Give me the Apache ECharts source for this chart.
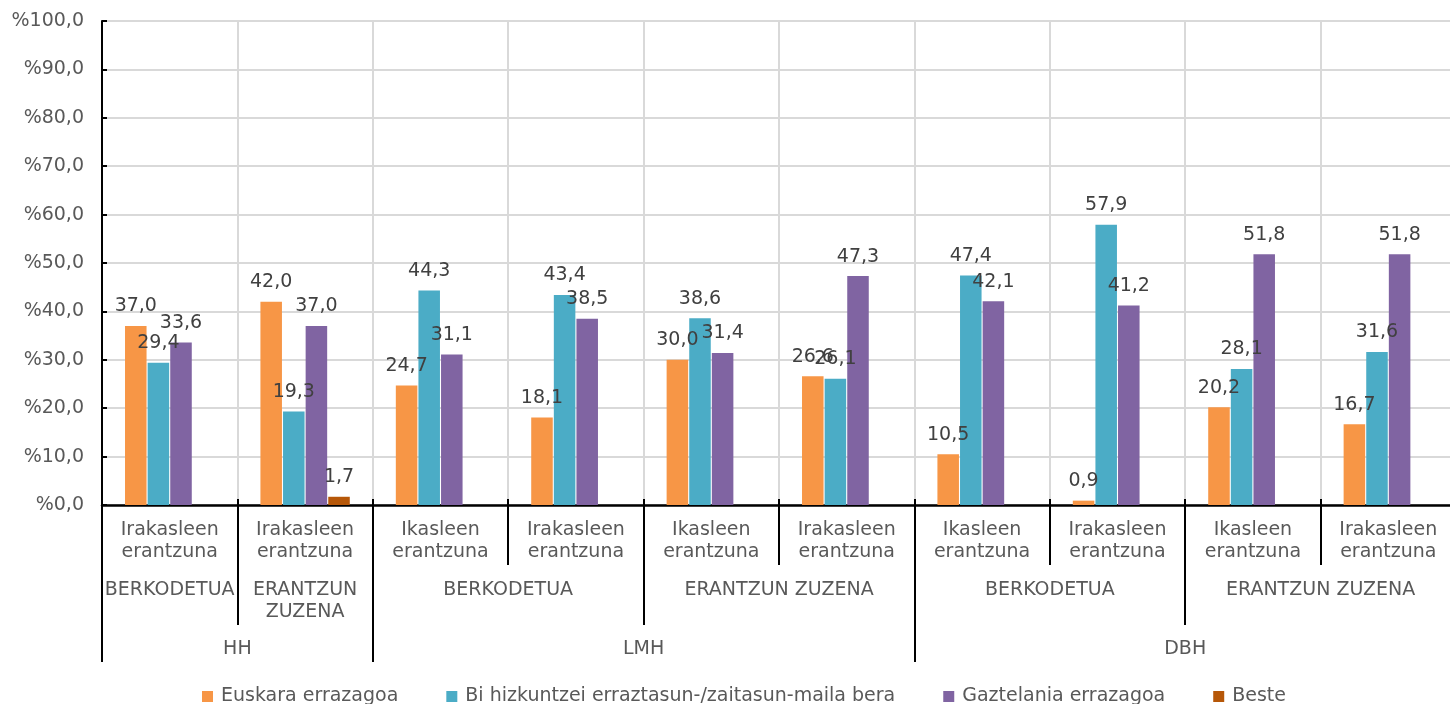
<!DOCTYPE html>
<html>
<head>
<meta charset="utf-8">
<script src="https://cdn.jsdelivr.net/npm/echarts@6/dist/echarts.min.js"></script>
<style>html,body{margin:0;padding:0;background:#fff}#c{width:1450px;height:704px}</style>
</head>
<body>
<div id="c"></div>
<script>
// ---- data ----
var categories = ['Irakasleen\nerantzuna','Irakasleen\nerantzuna','Ikasleen\nerantzuna','Irakasleen\nerantzuna','Ikasleen\nerantzuna','Irakasleen\nerantzuna','Ikasleen\nerantzuna','Irakasleen\nerantzuna','Ikasleen\nerantzuna','Irakasleen\nerantzuna'];
var level2Labels = ['BERKODETUA','ERANTZUN\nZUZENA','BERKODETUA','ERANTZUN ZUZENA','BERKODETUA','ERANTZUN ZUZENA'];
var level2Spans = [1,1,2,2,2,2];
var level3Labels = ['HH','LMH','DBH'];
var level3Spans = [2,4,4];
var seriesNames = ['Euskara errazagoa','Bi hizkuntzei erraztasun-/zaitasun-maila bera','Gaztelania errazagoa','Beste'];
var euskara = [37.0, 42.0, 24.7, 18.1, 30.0, 26.6, 10.5, 0.9, 20.2, 16.7];
var biak = [29.4, 19.3, 44.3, 43.4, 38.6, 26.1, 47.4, 57.9, 28.1, 31.6];
var gaztelania = [33.6, 37.0, 31.1, 38.5, 31.4, 47.3, 42.1, 41.2, 51.8, 51.8];
var beste = [null, 1.7, null, null, null, null, null, null, null, null];
var yTicks = [0,10,20,30,40,50,60,70,80,90,100];

// ---- helpers: half-step positions for group labels ----
function buildHalfAxis(labels, spans) {
  var n = categories.length * 2 + 1;
  var data = []; for (var i = 0; i < n; i++) data.push('');
  var bounds = [0];
  var start = 0;
  for (var g = 0; g < labels.length; g++) {
    var center = start * 2 + spans[g];
    data[center] = labels[g];
    start += spans[g];
    bounds.push(start * 2);
  }
  return {data: data, bounds: bounds};
}
var l2 = buildHalfAxis(level2Labels, level2Spans);
var l3 = buildHalfAxis(level3Labels, level3Spans);

var FONT = 'DejaVu Sans';
var FS = 19;
var fmt = function (v) { return v.toFixed(1).replace('.', ','); };
var colors = ['#F79646','#4BACC6','#8064A2','#B65708'];

function barSeries(name, data, color) {
  return {
    name: name, type: 'bar', data: data, xAxisIndex: 0,
    barCategoryGap: '34%', barGap: '5%',
    itemStyle: {color: color},
    label: {show: true, position: 'top', distance: 10, color: '#404040', fontFamily: FONT, fontSize: FS,
      formatter: function (p) { return p.value == null ? '' : fmt(p.value); }}
  };
}

var chart = echarts.init(document.getElementById('c'));
chart.setOption({
  animation: false,
  color: colors,
  grid: {left: 102, right: -6, top: 21, bottom: 199, containLabel: false, outerBoundsMode: 'none'},
  legend: {
    left: 197, top: 682, itemWidth: 11, itemHeight: 11, itemGap: 48, icon: 'rect',
    textStyle: {fontFamily: FONT, fontSize: FS, color: '#595959', padding: [0, 0, 0, 3]},
    data: seriesNames
  },
  yAxis: {
    type: 'value', min: yTicks[0], max: yTicks[yTicks.length - 1], interval: 10,
    axisLine: {show: true, lineStyle: {color: '#000', width: 2}},
    axisTick: {show: true, inside: true, length: 5, lineStyle: {color: '#000', width: 2}},
    axisLabel: {margin: 18, color: '#595959', fontFamily: FONT, fontSize: FS,
      formatter: function (v) { return '%' + fmt(v); }},
    splitLine: {show: true, lineStyle: {color: '#d9d9d9', width: 2}}
  },
  xAxis: [
    {
      type: 'category', data: categories, position: 'bottom', offset: 0,
      axisLine: {show: true, lineStyle: {color: '#000', width: 2.5}},
      axisTick: {show: true, length: 60, lineStyle: {color: '#000', width: 2}},
      axisLabel: {interval: 0, margin: 14, color: '#595959', fontFamily: FONT, fontSize: FS, lineHeight: 22},
      splitLine: {show: true, lineStyle: {color: '#d9d9d9', width: 2}}
    },
    {
      type: 'category', data: categories, position: 'bottom', offset: 0,
      axisLine: {show: false}, axisLabel: {show: false}, splitLine: {show: false},
      axisTick: {show: true, inside: true, length: 6, lineStyle: {color: '#000', width: 2}}
    },
    {
      type: 'category', data: l2.data, boundaryGap: false, position: 'bottom', offset: 0,
      axisLine: {show: false}, splitLine: {show: false},
      axisTick: {show: true, length: 120, lineStyle: {color: '#000', width: 2},
        interval: function (i) { return l2.bounds.indexOf(i) >= 0 && l3.bounds.indexOf(i) < 0; }},
      axisLabel: {interval: 0, margin: 74, color: '#595959', fontFamily: FONT, fontSize: FS, lineHeight: 22}
    },
    {
      type: 'category', data: l3.data, boundaryGap: false, position: 'bottom', offset: 0,
      axisLine: {show: false}, splitLine: {show: false},
      axisTick: {show: true, length: 157, lineStyle: {color: '#000', width: 2},
        interval: function (i) { return l3.bounds.indexOf(i) >= 0; }},
      axisLabel: {interval: 0, margin: 133, color: '#595959', fontFamily: FONT, fontSize: FS, lineHeight: 22}
    }
  ],
  series: [
    barSeries(seriesNames[0], euskara, colors[0]),
    barSeries(seriesNames[1], biak, colors[1]),
    barSeries(seriesNames[2], gaztelania, colors[2]),
    barSeries(seriesNames[3], beste, colors[3])
  ]
});
</script>
</body>
</html>
